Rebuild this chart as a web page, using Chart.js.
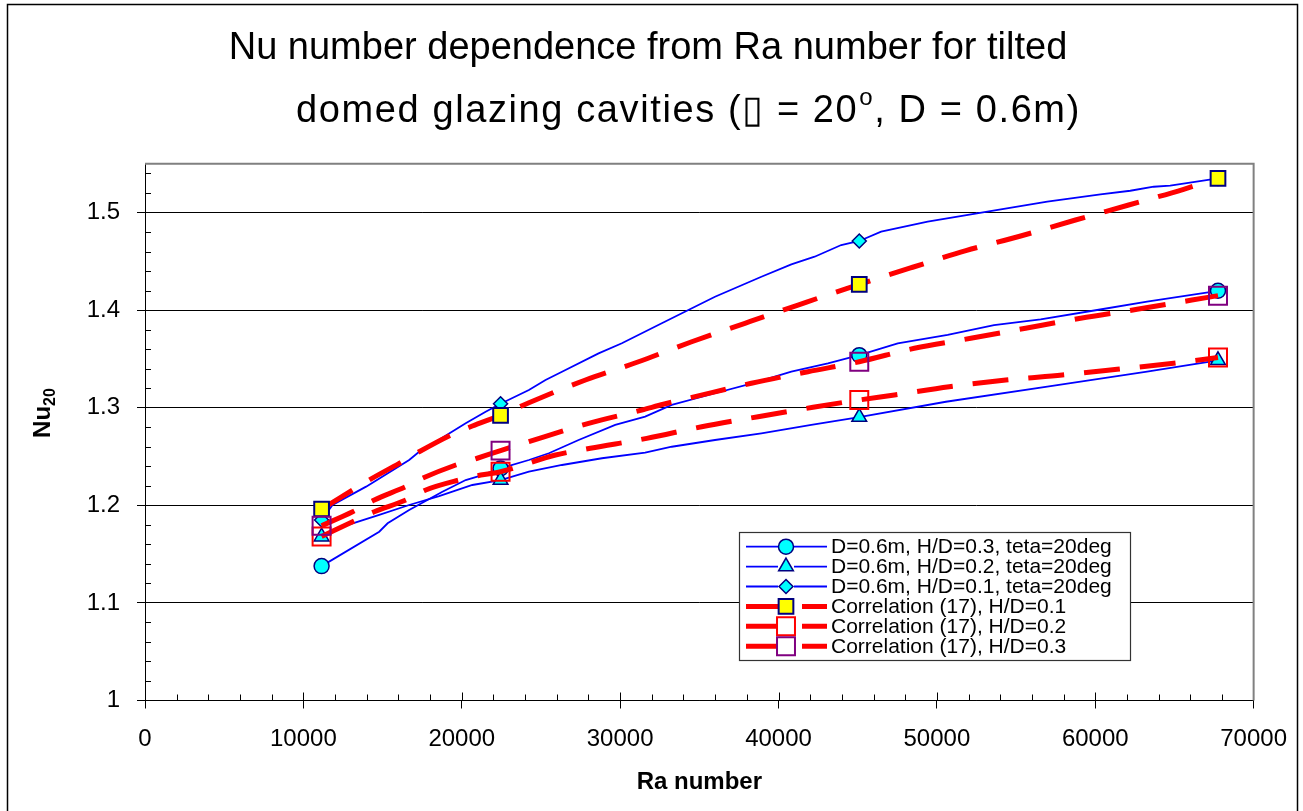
<!DOCTYPE html>
<html>
<head>
<meta charset="utf-8">
<title>Nu number dependence from Ra number</title>
<script src="https://cdn.jsdelivr.net/npm/chart.js@4/dist/chart.umd.min.js"></script>
<style>
  html, body { margin: 0; padding: 0; background: #fff; }
  canvas { display: block; }
</style>
</head>
<body>
<canvas id="nuChart" width="1303" height="811"></canvas>
<script>
const FONT = "'Liberation Sans', Arial, sans-serif";

// Ra values that carry a marker (the rest of each curve is plain line)
const raMarks = [11150, 22450, 45100, 67750];

const xTicks = [0, 10000, 20000, 30000, 40000, 50000, 60000, 70000];
const yTicks = [1, 1.1, 1.2, 1.3, 1.4, 1.5];

const seriesLabels = [
  "D=0.6m, H/D=0.3, teta=20deg",
  "D=0.6m, H/D=0.2, teta=20deg",
  "D=0.6m, H/D=0.1, teta=20deg",
  "Correlation (17), H/D=0.1",
  "Correlation (17), H/D=0.2",
  "Correlation (17), H/D=0.3"
];

// measured curves
const raHd03 = [11150, 14790, 15320, 16680, 18780, 20250, 21090, 22450, 24240, 25500, 27380, 29690, 31580, 33260, 35990, 38510, 40810, 43120, 45100, 47530, 50680, 53610, 56550, 60120, 63270, 67750];
const nuHd03 = [1.1377, 1.1729, 1.1816, 1.1952, 1.2139, 1.2259, 1.2300, 1.2378, 1.2464, 1.2533, 1.2669, 1.2823, 1.2908, 1.3028, 1.3148, 1.3256, 1.3369, 1.3455, 1.3538, 1.3660, 1.3745, 1.3847, 1.3906, 1.4001, 1.4086, 1.4198];

const raHd02 = [11150, 12480, 14790, 16680, 18570, 20670, 22450, 24240, 26330, 28850, 31580, 33260, 35990, 38920, 42070, 45100, 50570, 56970, 63270, 67750];
const nuHd02 = [1.1678, 1.1781, 1.1901, 1.2003, 1.2095, 1.2208, 1.2258, 1.2345, 1.2413, 1.2482, 1.2539, 1.2600, 1.2669, 1.2738, 1.2823, 1.2904, 1.3061, 1.3215, 1.3369, 1.3485];

const raHd01 = [11150, 11840, 13960, 16680, 17310, 18360, 20250, 21510, 22450, 24240, 25290, 26330, 28640, 30110, 32630, 34310, 35990, 38920, 40810, 42280, 43960, 45100, 46480, 49420, 53190, 56970, 60330, 62210, 63690, 64730, 67750];
const nuHd01 = [1.1849, 1.2003, 1.2191, 1.2464, 1.2549, 1.2652, 1.2840, 1.2959, 1.3040, 1.3181, 1.3284, 1.3369, 1.3557, 1.3660, 1.3865, 1.4001, 1.4137, 1.4342, 1.4469, 1.4547, 1.4667, 1.4708, 1.4803, 1.4906, 1.5008, 1.5111, 1.5186, 1.5223, 1.5264, 1.5275, 1.5350];

// correlation (17)
const raCorr01 = [11150, 14160, 16050, 17310, 19310, 20670, 22450, 24240, 27810, 31160, 34520, 37880, 41230, 45100, 48470, 51830, 55290, 58750, 62110, 65580, 67750];
const nuCorr01 = [1.1962, 1.2259, 1.2430, 1.2549, 1.2720, 1.2812, 1.2922, 1.3051, 1.3284, 1.3471, 1.3676, 1.3865, 1.4052, 1.4264, 1.4439, 1.4609, 1.4759, 1.4923, 1.5077, 1.5238, 1.5350];

const raCorr02 = [11150, 13110, 14480, 16470, 17730, 19830, 21200, 22450, 25920, 28120, 31680, 35150, 38710, 42180, 45100, 47320, 50780, 54350, 57910, 61380, 64950, 67750];
const nuCorr02 = [1.1680, 1.1832, 1.1934, 1.2054, 1.2157, 1.2259, 1.2310, 1.2344, 1.2515, 1.2584, 1.2686, 1.2805, 1.2908, 1.3004, 1.3079, 1.3130, 1.3215, 1.3284, 1.3335, 1.3393, 1.3455, 1.3514];

const raCorr03 = [11150, 13110, 14480, 16470, 17520, 19620, 20980, 22450, 24240, 28010, 31370, 32730, 34730, 38290, 41860, 45100, 48580, 52140, 55600, 59070, 62640, 66100, 67750];
const nuCorr03 = [1.1791, 1.1934, 1.2054, 1.2191, 1.2277, 1.2413, 1.2482, 1.2560, 1.2652, 1.2840, 1.2976, 1.3035, 1.3113, 1.3250, 1.3369, 1.3471, 1.3609, 1.3711, 1.3814, 1.3916, 1.4008, 1.4103, 1.4148];

function pairs(xs, ys) {
  return xs.map((x, i) => ({ x: x, y: ys[i] }));
}

// marker only where the Ra value is one of raMarks
function markerRadius(r) {
  return (c) => (c.raw && raMarks.includes(c.raw.x) ? r : 0);
}

function measuredSet(i, ra, nu, style, radius) {
  return {
    label: seriesLabels[i],
    data: pairs(ra, nu),
    borderColor: "#0000ff",
    borderWidth: 1.8,
    pointStyle: style,
    pointRadius: markerRadius(radius),
    legendRadius: radius,
    pointBackgroundColor: "#00ffff",
    pointBorderColor: "#000080",
    pointBorderWidth: 1.5,
    tension: 0,
    order: 6 - i
  };
}

function corrSet(i, ra, nu, fill, edge, radius) {
  return {
    label: seriesLabels[i],
    data: pairs(ra, nu),
    borderColor: "#ff0000",
    borderWidth: 5,
    borderDash: [36, 20],
    pointStyle: "rect",
    pointRadius: markerRadius(radius),
    legendRadius: radius,
    pointBackgroundColor: fill,
    pointBorderColor: edge,
    pointBorderWidth: 2,
    cubicInterpolationMode: "monotone",
    order: 6 - i
  };
}

// frame, minor ticks and plot-area outline
const framePlugin = {
  id: "frame",
  beforeDraw(chart) {
    const ctx = chart.ctx;
    ctx.save();
    ctx.fillStyle = "#fff";
    ctx.fillRect(0, 0, chart.width, chart.height);
    ctx.strokeStyle = "#000";
    ctx.lineWidth = 1.5;
    ctx.strokeRect(7.5, 4.5, 1290, 830);
    ctx.restore();
  },
  beforeDatasetsDraw(chart) {
    const ctx = chart.ctx;
    const a = chart.chartArea;
    const xs = chart.scales.x, ys = chart.scales.y;
    ctx.save();
    ctx.strokeStyle = "#808080";
    ctx.lineWidth = 2;
    ctx.beginPath();
    ctx.moveTo(a.left, a.top);
    ctx.lineTo(a.right, a.top);
    ctx.lineTo(a.right, a.bottom);
    ctx.stroke();

    ctx.strokeStyle = "#000";
    ctx.lineWidth = 1;
    ctx.beginPath();
    for (let v = 2000; v < 70000; v += 2000) {
      const px = Math.round(xs.getPixelForValue(v)) + 0.5;
      const len = v % 10000 === 0 ? 8 : 6;
      ctx.moveTo(px, a.bottom);
      ctx.lineTo(px, a.bottom - len);
    }
    for (let k = 1; k <= 27; k++) {
      if (k % 5 === 0) continue;
      const py = Math.round(ys.getPixelForValue(1 + k * 0.02)) + 0.5;
      ctx.moveTo(a.left, py);
      ctx.lineTo(a.left + 6, py);
    }
    ctx.stroke();
    ctx.restore();
  }
};

// title, axis titles and legend box
const textPlugin = {
  id: "texts",
  afterDraw(chart) {
    const ctx = chart.ctx;
    const a = chart.chartArea;
    ctx.save();
    ctx.fillStyle = "#000";
    ctx.textBaseline = "alphabetic";

    // two-line title with superscript degree mark
    ctx.font = "38px " + FONT;
    ctx.textAlign = "center";
    ctx.fillText("Nu number dependence from Ra number for tilted", 648, 59);

    ctx.save();
    ctx.letterSpacing = "1.6px";
    ctx.textAlign = "left";
    const partA = "domed glazing cavities (\u25AF = 20";
    const partB = ", D = 0.6m)";
    ctx.font = "38px " + FONT;
    const wA = ctx.measureText(partA).width;
    const wB = ctx.measureText(partB).width;
    ctx.font = "24px " + FONT;
    const wS = ctx.measureText("o").width;
    const x0 = 688 - (wA + wS + wB) / 2;
    ctx.font = "38px " + FONT;
    ctx.fillText(partA, x0, 122);
    ctx.font = "24px " + FONT;
    ctx.fillText("o", x0 + wA + 1, 105);
    ctx.font = "38px " + FONT;
    ctx.fillText(partB, x0 + wA + wS + 1, 122);
    ctx.restore();

    // x axis title
    ctx.font = "bold 24px " + FONT;
    ctx.textAlign = "center";
    ctx.fillText("Ra number", (a.left + a.right) / 2, 789);

    // y axis title Nu with subscript 20
    ctx.save();
    ctx.translate(50, 413);
    ctx.rotate(-Math.PI / 2);
    ctx.textAlign = "left";
    ctx.font = "bold 24px " + FONT;
    const wNu = ctx.measureText("Nu").width;
    ctx.font = "bold 16px " + FONT;
    const wSub = ctx.measureText("20").width;
    const sx = -(wNu + wSub) / 2;
    ctx.font = "bold 24px " + FONT;
    ctx.fillText("Nu", sx, 0);
    ctx.font = "bold 16px " + FONT;
    ctx.fillText("20", sx + wNu, 5);
    ctx.restore();

    // legend
    const box = { x: 739.5, y: 532.5, w: 391, h: 128 };
    ctx.fillStyle = "#fff";
    ctx.fillRect(box.x, box.y, box.w, box.h);
    ctx.strokeStyle = "#333";
    ctx.lineWidth = 1.2;
    ctx.strokeRect(box.x, box.y, box.w, box.h);

    ctx.font = "21px " + FONT;
    ctx.textAlign = "left";
    ctx.textBaseline = "middle";
    chart.data.datasets.forEach((ds, i) => {
      const y = 546.7 + i * 19.9;
      ctx.save();
      ctx.strokeStyle = ds.borderColor;
      ctx.lineWidth = ds.borderWidth;
      ctx.setLineDash(ds.borderDash || []);
      ctx.beginPath();
      ctx.moveTo(746, y);
      ctx.lineTo(827, y);
      ctx.stroke();
      ctx.setLineDash([]);
      ctx.fillStyle = "#fff";
      ctx.fillRect(786 - 8, y - 8, 16, 16);
      ctx.fillStyle = ds.pointBackgroundColor;
      ctx.strokeStyle = ds.pointBorderColor;
      ctx.lineWidth = ds.pointBorderWidth;
      Chart.helpers.drawPoint(ctx, {
        pointStyle: ds.pointStyle,
        radius: ds.legendRadius,
        rotation: 0,
        borderWidth: ds.pointBorderWidth
      }, 786, y);
      ctx.restore();
      ctx.fillStyle = "#000";
      ctx.fillText(ds.label, 831, y + 1);
    });
    ctx.restore();
  }
};

new Chart(document.getElementById("nuChart"), {
  type: "line",
  data: {
    datasets: [
      measuredSet(0, raHd03, nuHd03, "circle", 7.5),
      measuredSet(1, raHd02, nuHd02, "triangle", 8.5),
      measuredSet(2, raHd01, nuHd01, "rectRot", 7),
      corrSet(3, raCorr01, nuCorr01, "#ffff00", "#000080", 10.4),
      corrSet(4, raCorr02, nuCorr02, "rgba(255,255,255,0)", "#ff0000", 12.7),
      corrSet(5, raCorr03, nuCorr03, "rgba(255,255,255,0)", "#800080", 12.7)
    ]
  },
  options: {
    responsive: false,
    animation: false,
    devicePixelRatio: 1,
    events: [],
    layout: { padding: { left: 0, right: 46, top: 163.7, bottom: 0 } },
    plugins: {
      legend: { display: false },
      title: { display: false },
      tooltip: { enabled: false }
    },
    scales: {
      x: {
        type: "linear",
        min: 0,
        max: 70000,
        afterBuildTicks: (s) => { s.ticks = xTicks.map((v) => ({ value: v })); },
        afterFit: (s) => { s.height = 110.5; },
        ticks: {
          color: "#000",
          font: { family: FONT, size: 24 },
          padding: 16,
          maxRotation: 0,
          callback: (v) => String(v)
        },
        grid: { drawOnChartArea: false, color: "#000", tickLength: 8, lineWidth: 1 },
        border: { color: "#000", width: 1 }
      },
      y: {
        type: "linear",
        min: 1,
        max: 1.55,
        afterBuildTicks: (s) => { s.ticks = yTicks.map((v) => ({ value: v })); },
        afterFit: (s) => { s.width = 145; },
        ticks: {
          color: "#000",
          font: { family: FONT, size: 24 },
          padding: 17,
          callback: (v) => String(+v.toFixed(2))
        },
        grid: { color: "#000", tickLength: 8, lineWidth: 1 },
        border: { color: "#000", width: 1 }
      }
    }
  },
  plugins: [framePlugin, textPlugin]
});
</script>
</body>
</html>
